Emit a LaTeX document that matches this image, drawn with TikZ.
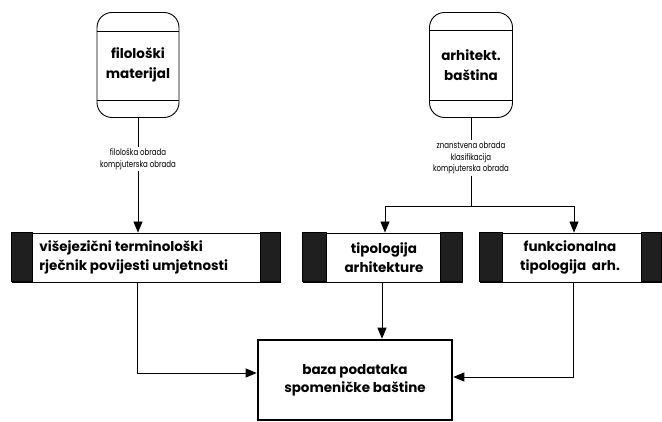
\documentclass[tikz,border=0pt]{standalone}
\usepackage{fontspec}
\setmainfont{Poppins}
\newfontfamily\notefont{Poppins}[FakeStretch=0.78]
\usetikzlibrary{arrows.meta,calc}
\begin{document}
\begin{tikzpicture}[x=1pt,y=-1pt,
  line width=0.9pt,
  store/.style={draw, rounded corners=15pt, minimum width=82pt, minimum height=105pt,
    align=center, font=\bfseries\fontsize{13.5}{20}\selectfont, inner sep=0pt},
  note/.style={align=center, font=\notefont\fontsize{9}{11.8}\selectfont, inner sep=1pt},
  proc/.style={draw, minimum height=49pt, inner sep=0pt, align=center},
  proctext/.style={font=\bfseries\fontsize{13.5}{19}\selectfont, inner sep=0pt},
  bar/.style={fill=black!88, draw=black},
  flow/.style={-{Triangle[length=11pt,width=9pt]}}
]
\useasboundingbox (0,0) rectangle (662,422);

% data stores
\node[store] (fil) at (138,65) {filološki\\materijal};
\draw ($(fil.north west)+(0,19)$) -- ($(fil.north east)+(0,19)$);
\draw ($(fil.south west)+(0,-17)$) -- ($(fil.south east)+(0,-17)$);

\node[store, minimum width=83pt] (arh) at (471,65) {arhitekt.\\baština};
\draw ($(arh.north west)+(0,18)$) -- ($(arh.north east)+(0,18)$);
\draw ($(arh.south west)+(0,-17)$) -- ($(arh.south east)+(0,-17)$);

% processing notes
\node[note] (n1) at (138,159) {filološka obrada\\kompjuterska obrada};
\node[note] (n2) at (471,158) {znanstvena obrada\\klasifikacija\\kompjuterska obrada};

% processes with dark side bars
\node[proc, minimum width=268pt] (rj) at (146,257.5) {};
\fill[bar] (rj.north west) rectangle ++(21,49);
\fill[bar] (rj.north east) rectangle ++(-20,49);
\node[proctext, align=left, anchor=west] (rjt) at (39,257.5)
  {višejezični terminološki\\rječnik povijesti umjetnosti};

\node[proc, minimum width=159pt] (tip) at (382.5,257.5) {};
\fill[bar] (tip.north west) rectangle ++(24,49);
\fill[bar] (tip.north east) rectangle ++(-22,49);
\node[proctext, align=center] (tipt) at (384,257.5) {tipologija\\arhitekture};

\node[proc, minimum width=181pt] (fun) at (570.5,257.5) {};
\fill[bar] (fun.north west) rectangle ++(23,49);
\fill[bar] (fun.north east) rectangle ++(-20,49);
\node[proctext, align=center] (funt) at (570,257.5) {funkcionalna\\tipologija~ arh.};

% database
\node[draw, line width=2.6pt, minimum width=194pt, minimum height=80pt, align=center,
  font=\bfseries\fontsize{13.5}{18}\selectfont] (db) at (355,380)
  {baza podataka\\spomeničke baštine};

% connectors
\draw (fil.south) -- (n1.north);
\draw[flow] (n1.south) -- (n1.south |- rj.north);

\coordinate (j) at (471,206);
\coordinate (jl) at (385,206);
\coordinate (jr) at (574,206);
\draw (arh.south) -- (n2.north);
\draw (n2.south) -- (j);
\draw[flow] (j) -- (jl) -- (jl |- tip.north);
\draw[flow] (j) -- (jr) -- (jr |- fun.north);

\coordinate (o1) at (137,282);
\coordinate (o2) at (382,282);
\coordinate (o3) at (573,282);
\draw[flow] (o1) |- ([yshift=7pt]db.west);
\draw[flow] (o2) -- (o2 |- db.north);
\draw[flow] (o3) |- ([yshift=3pt]db.east);
\end{tikzpicture}
\end{document}
